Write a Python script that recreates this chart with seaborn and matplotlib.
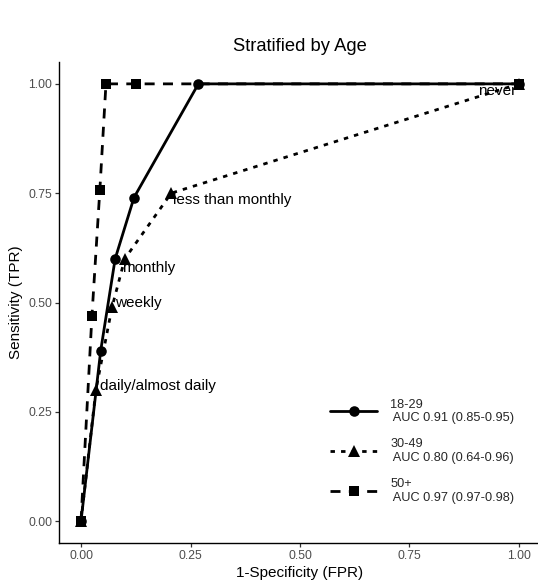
import matplotlib
matplotlib.use("Agg")
import matplotlib.pyplot as plt
import numpy as np
import pandas as pd
import seaborn as sns

# ROC points (FPR, TPR) per age group, one point per frequency cutoff
groups = ["18-29", "30-49", "50+"]
fpr_18_29 = [0.00, 0.045, 0.078, 0.121, 0.268, 1.00]
tpr_18_29 = [0.00, 0.39, 0.60, 0.74, 1.00, 1.00]
fpr_30_49 = [0.00, 0.034, 0.071, 0.100, 0.206, 1.00]
tpr_30_49 = [0.00, 0.30, 0.49, 0.60, 0.75, 1.00]
fpr_50p = [0.00, 0.025, 0.043, 0.057, 0.126, 1.00]
tpr_50p = [0.00, 0.47, 0.757, 1.00, 1.00, 1.00]

auc_text = ["AUC 0.91 (0.85-0.95)", "AUC 0.80 (0.64-0.96)", "AUC 0.97 (0.97-0.98)"]

# cutoff labels and where they sit
cutoff_labels = ["daily/almost daily", "weekly", "monthly", "less than monthly", "never"]
cutoff_x = [0.043, 0.078, 0.094, 0.210, 0.906]
cutoff_y = [0.325, 0.515, 0.595, 0.750, 1.000]

df = pd.concat([
    pd.DataFrame({"FPR": fpr_18_29, "TPR": tpr_18_29, "Age": groups[0]}),
    pd.DataFrame({"FPR": fpr_30_49, "TPR": tpr_30_49, "Age": groups[1]}),
    pd.DataFrame({"FPR": fpr_50p, "TPR": tpr_50p, "Age": groups[2]}),
], ignore_index=True)

sns.set_style("white")
plt.rcParams["font.family"] = ["Liberation Sans", "DejaVu Sans"]

W, H = 538, 588
fig = plt.figure(figsize=(W / 100, H / 100), dpi=100)
# panel in pixel terms: x from 59 to 541, y from 62 to 543
ax = fig.add_axes([59.1 / W, (H - 543) / H, 481.8 / W, 481 / H])

lw = 2.0
marker_map = {"18-29": "o", "30-49": "^", "50+": "s"}
dash_map = {"18-29": "", "30-49": (1.6, 2.2), "50+": (3.6, 3.0)}
marker_size = {"o": 7.6, "^": 8.0, "s": 7.2}

sns.lineplot(data=df, x="FPR", y="TPR", style="Age", style_order=groups,
             markers=marker_map, dashes=dash_map, color="black",
             linewidth=lw, markersize=7.6, markeredgewidth=0,
             sort=False, ax=ax, legend=True)

for line in ax.get_lines():
    line.set_dash_capstyle("butt")
    m = line.get_marker()
    if m in marker_size:
        line.set_markersize(marker_size[m])

for lab, x, y in zip(cutoff_labels, cutoff_x, cutoff_y):
    ax.text(x, y, lab, ha="left", va="top", fontsize=11, color="black")

ax.set_xlim(-0.05, 1.05)
ax.set_ylim(-0.05, 1.05)
ticks = [0.00, 0.25, 0.50, 0.75, 1.00]
ax.set_xticks(ticks)
ax.set_yticks(ticks)
ax.set_xticklabels([f"{t:.2f}" for t in ticks])
ax.set_yticklabels([f"{t:.2f}" for t in ticks])
ax.tick_params(axis="both", which="major", length=2.75, width=0.9, color="#333333",
               labelsize=8.8, labelcolor="#4D4D4D", pad=2.2, bottom=True, left=True)

for side in ["top", "right"]:
    ax.spines[side].set_visible(False)
for side in ["left", "bottom"]:
    ax.spines[side].set_color("black")
    ax.spines[side].set_linewidth(1.0)

ax.set_xlabel("1-Specificity (FPR)", fontsize=11, color="black", labelpad=3)
ax.set_ylabel("Sensitivity (TPR)", fontsize=11, color="black", labelpad=4)
ax.set_title("Stratified by Age", fontsize=13.2, color="black", pad=8)

handles, labels = ax.get_legend_handles_labels()
by_label = dict(zip(labels, handles))
leg_handles = [by_label[g] for g in groups]
for h in leg_handles:
    h.set_linewidth(lw)
    h.set_dash_capstyle("butt")
    h.set_markeredgewidth(0)
    m = h.get_marker()
    if m in marker_size:
        h.set_markersize(marker_size[m])
leg_labels = [f"{g}\n {a}" for g, a in zip(groups, auc_text)]
leg = ax.legend(leg_handles, leg_labels, loc="center left",
                bbox_to_anchor=(330 / W, 1 - 451 / H), bbox_transform=fig.transFigure,
                frameon=False, fontsize=9.2, handlelength=3.7, handletextpad=1.0,
                labelspacing=1.08, borderpad=0, borderaxespad=0, numpoints=1)

fig.savefig("out.png", dpi=100, facecolor="white")
